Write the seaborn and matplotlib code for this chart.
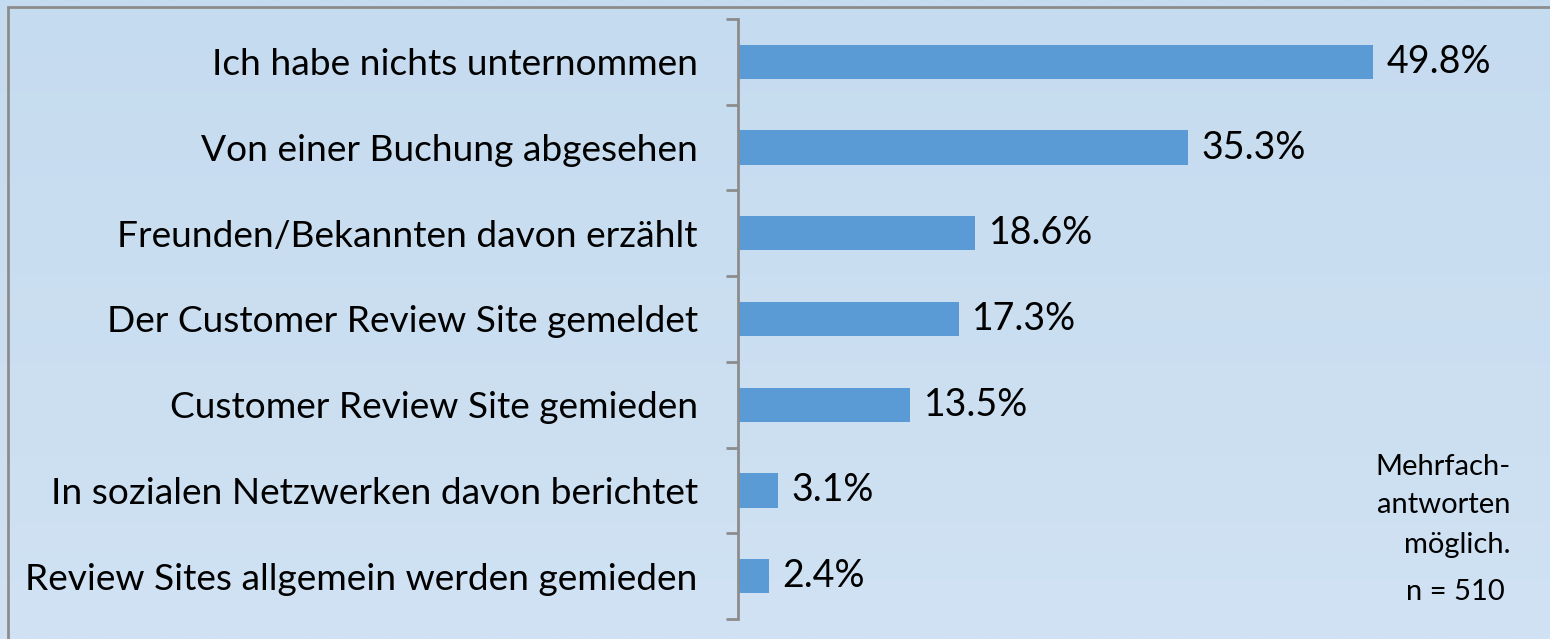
import numpy as np
import matplotlib
matplotlib.use('Agg')
import matplotlib.pyplot as plt
import seaborn as sns
from matplotlib.patches import Rectangle

# ── Data ───────────────────────────────────────────────────────────────────────
categories = [
    "Ich habe nichts unternommen",
    "Von einer Buchung abgesehen",
    "Freunden/Bekannten davon erzählt",
    "Der Customer Review Site gemeldet",
    "Customer Review Site gemieden",
    "In sozialen Netzwerken davon berichtet",
    "Review Sites allgemein werden gemieden",
]
shares = [49.8, 35.3, 18.6, 17.3, 13.5, 3.1, 2.4]
note_lines = ["Mehrfach-", "antworten", "möglich."]
n_text = "n = 510"

BAR_COLOR = '#5B9BD5'
AXIS_GRAY = '#8C8C8C'

sns.set_style('white')
plt.rcParams['font.family'] = ['Lato', 'DejaVu Sans']
plt.rcParams['text.color'] = 'black'
plt.rcParams['ytick.color'] = 'black'

W, H = 1550, 639
fig = plt.figure(figsize=(W / 100, H / 100), dpi=100)

# ── Background gradient + frame ────────────────────────────────────────────────
bg = fig.add_axes([0, 0, 1, 1], zorder=0)
grad = np.linspace(0, 1, 256).reshape(-1, 1)
top_c = np.array([197, 219, 239]) / 255
bot_c = np.array([208, 226, 243]) / 255
img = top_c[None, None, :] * (1 - grad[:, :, None]) + bot_c[None, None, :] * grad[:, :, None]
bg.imshow(img, aspect='auto', extent=[0, 1, 0, 1], origin='upper')
bg.add_patch(Rectangle((8 / W, -0.05), 1.1, 1 - 7 / H + 0.05, fill=False,
                       edgecolor=AXIS_GRAY, linewidth=2))
bg.set_xlim(0, 1); bg.set_ylim(0, 1)
bg.axis('off')

# ── Bar chart ──────────────────────────────────────────────────────────────────
ax = fig.add_axes([738 / W, 1 - 619 / H, 1 - 738 / W, 600 / H], zorder=1)
ax.patch.set_alpha(0)
sns.barplot(x=shares, y=categories, color=BAR_COLOR, saturation=1,
            width=0.4, linewidth=0, ax=ax)
ax.set_xlim(0, 63.7)
ax.set_ylim(len(categories) - 0.5, -0.5)

for s in ['top', 'right', 'bottom']:
    ax.spines[s].set_visible(False)
ax.spines['left'].set_color(AXIS_GRAY)
ax.spines['left'].set_linewidth(2)
ax.set_xticks([])
ax.set_xlabel(''); ax.set_ylabel('')

ax.set_yticks(range(len(categories)))
ax.set_yticklabels(categories, fontsize=26.7, color='black')
ax.tick_params(axis='y', which='major', left=False, length=0, pad=29)
ax.set_yticks(np.arange(-0.5, len(categories)), minor=True)
ax.tick_params(axis='y', which='minor', left=True, length=9, width=2,
               color=AXIS_GRAY)

ax.bar_label(ax.containers[0], labels=[f'{v:.1f}%' for v in shares],
             padding=10, fontsize=27, color='black')

# ── Side note ──────────────────────────────────────────────────────────────────
for line, y in zip(note_lines, [467, 505, 545]):
    fig.text(1510 / W, 1 - y / H, line, ha='right', va='center', fontsize=21)
fig.text(1505 / W, 1 - 592 / H, n_text, ha='right', va='center', fontsize=21)

plt.savefig('out.png', dpi=100)
plt.close()
